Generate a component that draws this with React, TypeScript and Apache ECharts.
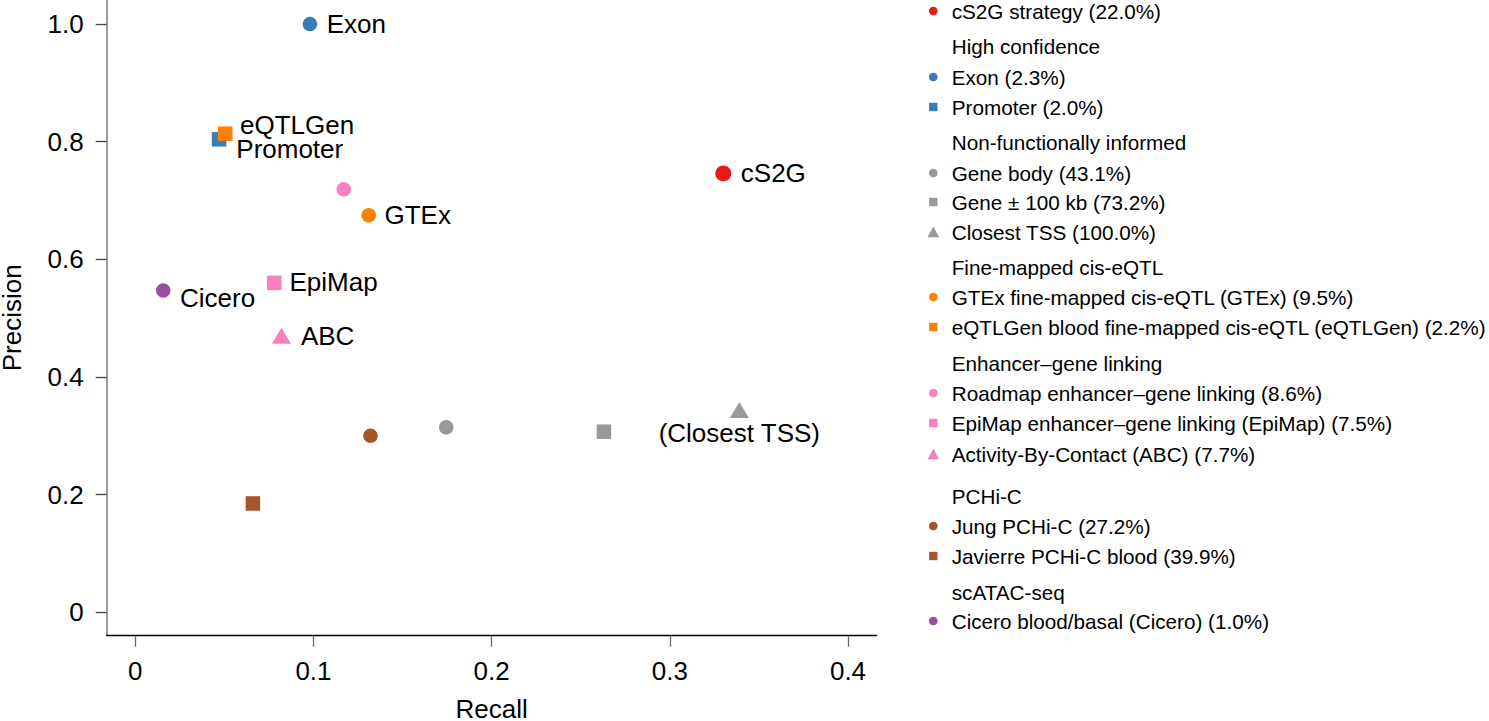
import React, { useEffect, useRef } from 'react';
import * as echarts from 'echarts';

// ---------- DATA ----------
const methodNames = [
  'cS2G strategy (22.0%)',
  'Exon (2.3%)',
  'Promoter (2.0%)',
  'Gene body (43.1%)',
  'Gene \u00b1 100 kb (73.2%)',
  'Closest TSS (100.0%)',
  'GTEx fine-mapped cis-eQTL (GTEx) (9.5%)',
  'eQTLGen blood fine-mapped cis-eQTL (eQTLGen) (2.2%)',
  'Roadmap enhancer\u2013gene linking (8.6%)',
  'EpiMap enhancer\u2013gene linking (EpiMap) (7.5%)',
  'Activity-By-Contact (ABC) (7.7%)',
  'Jung PCHi-C (27.2%)',
  'Javierre PCHi-C blood (39.9%)',
  'Cicero blood/basal (Cicero) (1.0%)',
];
const recall = [0.33, 0.098, 0.047, 0.1745, 0.263, 0.339, 0.131, 0.0505, 0.117, 0.078, 0.082, 0.132, 0.066, 0.0157];
const precision = [0.746, 1.0, 0.804, 0.3145, 0.307, 0.344, 0.675, 0.8135, 0.719, 0.56, 0.47, 0.3, 0.185, 0.547];
const pointLabels = ['cS2G', 'Exon', 'Promoter', '', '', '(Closest TSS)', 'GTEx', 'eQTLGen', '', 'EpiMap', 'ABC', '', '', 'Cicero'];
const groupHeadings = ['', 'High confidence', 'Non-functionally informed', 'Fine-mapped cis-eQTL', 'Enhancer\u2013gene linking', 'PCHi-C', 'scATAC-seq'];
const methodGroup = [0, 1, 1, 2, 2, 2, 3, 3, 4, 4, 4, 5, 5, 6];
const xTicks = [0, 0.1, 0.2, 0.3, 0.4];
const yTicks = [0, 0.2, 0.4, 0.6, 0.8, 1.0];

// ---------- STYLES ----------
const colors = ['#e41a1c', '#377eb8', '#377eb8', '#999999', '#999999', '#999999', '#ff7f00', '#ff7f00', '#f781bf', '#f781bf', '#f781bf', '#a65628', '#a65628', '#984ea3'];
const shapes = ['circle', 'circle', 'rect', 'circle', 'rect', 'triangle', 'circle', 'rect', 'circle', 'rect', 'triangle', 'circle', 'rect', 'circle'];
const symbolSizeFor = (shape: string, i: number): any => {
  if (shape === 'triangle') return [19, 16];
  if (shape === 'rect') return 14.5;
  return i === 0 ? 16 : 14.5;
};
const labelPlacement: any[] = [
  { position: 'right', distance: 9.5, offset: [0, 0] },
  { position: 'right', distance: 9.5, offset: [0, 0] },
  { position: 'right', distance: 10, offset: [0, 9.5] },
  null,
  null,
  { position: 'bottom', distance: 5, offset: [0, 0] },
  { position: 'right', distance: 8.5, offset: [0, 0] },
  { position: 'right', distance: 7.5, offset: [0, -8.5] },
  null,
  { position: 'right', distance: 8, offset: [0, -1] },
  { position: 'right', distance: 10, offset: [0, 0] },
  null,
  null,
  { position: 'right', distance: 9.5, offset: [0, 8] },
];
const FONT = '"Liberation Sans", Arial, Helvetica, sans-serif';
const CHART_FS = 26;
const LEGEND_FS = 20.7;
// legend layout (row centres, in px)
const legendRowY = [11, 46, 77, 107, 142, 173, 202, 232, 267, 297, 327, 363, 393, 423, 454, 496, 526, 556, 592, 621];
const legendMarkerX = 933.3;
const legendTextX = 951.7;

function buildLegend(): any[] {
  const rows: { kind: 'head' | 'item'; idx: number }[] = [];
  let lastGroup = -1;
  methodNames.forEach((_, i) => {
    const g = methodGroup[i];
    if (g !== lastGroup && groupHeadings[g]) rows.push({ kind: 'head', idx: g });
    lastGroup = g;
    rows.push({ kind: 'item', idx: i });
  });
  const els: any[] = [];
  rows.forEach((r, k) => {
    const y = legendRowY[k];
    const text = r.kind === 'head' ? groupHeadings[r.idx] : methodNames[r.idx];
    els.push({
      type: 'text',
      x: legendTextX,
      y,
      style: { text, fontSize: LEGEND_FS, fontFamily: FONT, fill: '#000', align: 'left', verticalAlign: 'middle' },
    });
    if (r.kind === 'item') {
      const c = colors[r.idx];
      const s = shapes[r.idx];
      if (s === 'circle') {
        els.push({ type: 'circle', shape: { cx: legendMarkerX, cy: y, r: 4.3 }, style: { fill: c } });
      } else if (s === 'rect') {
        els.push({ type: 'rect', shape: { x: legendMarkerX - 4.2, y: y - 4.2, width: 8.4, height: 8.4 }, style: { fill: c } });
      } else {
        els.push({
          type: 'polygon',
          shape: { points: [[legendMarkerX - 5.8, y + 5.2], [legendMarkerX + 5.8, y + 5.2], [legendMarkerX, y - 5.6]] },
          style: { fill: c },
        });
      }
    }
  });
  return els;
}

export default function App() {
  const ref = useRef<HTMLDivElement>(null);
  useEffect(() => {
    if (!ref.current) return;
    const chart = echarts.init(ref.current, undefined, { renderer: 'svg' });
    const series = methodNames.map((name, i) => {
      const lp = labelPlacement[i];
      return {
        name,
        type: 'scatter',
        symbol: shapes[i],
        symbolSize: symbolSizeFor(shapes[i], i),
        itemStyle: { color: colors[i], opacity: 1 },
        data: [[recall[i], precision[i]]],
        label: lp
          ? {
              show: true,
              formatter: pointLabels[i],
              position: lp.position,
              distance: lp.distance,
              offset: lp.offset,
              fontSize: CHART_FS,
              lineHeight: 20,
              fontFamily: FONT,
              color: '#000',
            }
          : { show: false },
        emphasis: { disabled: true },
        z: 2 + i,
      };
    });
    chart.setOption({
      animation: false,
      textStyle: { fontFamily: FONT },
      grid: { left: 106.7, right: 612.3, top: 0, bottom: 85.3, containLabel: false, outerBoundsMode: 'none' },
      xAxis: {
        type: 'value',
        min: -0.01605,
        max: 0.4161,
        name: 'Recall',
        nameLocation: 'middle',
        nameGap: 62,
        nameTextStyle: { fontSize: CHART_FS, lineHeight: 22, color: '#000', fontFamily: FONT },
        axisLine: { show: true, onZero: false, lineStyle: { color: '#000', width: 1.3 } },
        axisTick: { show: true, length: 11, customValues: xTicks, lineStyle: { color: '#666', width: 1.3 } },
        axisLabel: {
          customValues: xTicks,
          fontSize: CHART_FS,
          color: '#000',
          fontFamily: FONT,
          margin: 22,
          formatter: (v: number) => (v === 0 ? '0' : String(+v.toFixed(1))),
        },
        splitLine: { show: false },
      },
      yAxis: {
        type: 'value',
        min: -0.0398,
        max: 1.0408,
        name: 'Precision',
        nameLocation: 'middle',
        nameGap: 84,
        nameTextStyle: { fontSize: CHART_FS, lineHeight: 22, color: '#000', fontFamily: FONT },
        axisLine: { show: true, onZero: false, lineStyle: { color: '#808080', width: 1.6 } },
        axisTick: { show: true, length: 11, customValues: yTicks, lineStyle: { color: '#444', width: 1.3 } },
        axisLabel: {
          customValues: yTicks,
          fontSize: CHART_FS,
          color: '#000',
          fontFamily: FONT,
          margin: 23,
          formatter: (v: number) => (v === 0 ? '0' : v.toFixed(1)),
        },
        splitLine: { show: false },
      },
      graphic: buildLegend(),
      series,
    });
    return () => chart.dispose();
  }, []);
  return (
    <div
      ref={ref}
      style={{ position: 'fixed', left: 0, top: 0, width: 1489, height: 721, background: '#fff' }}
    />
  );
}
